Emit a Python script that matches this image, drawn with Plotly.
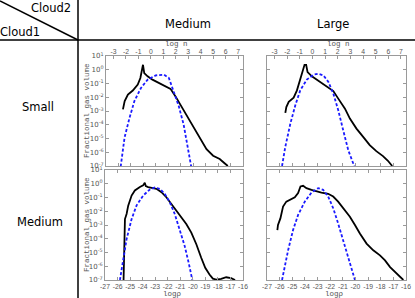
import plotly.graph_objects as go

# ---------------- data (x: log rho, y: log10 fractional gas volume) ----------------
tl_black_x = [-25.64, -25.50, -25.24, -24.85, -24.45, -24.24, -24.11, -24.03, -23.93, -23.66, -23.27, -22.74,
              -22.22, -21.82, -21.43, -21.03, -20.51, -19.98, -19.45, -18.93, -18.40, -17.87, -17.48, -17.22]
tl_black_y = [-2.88, -2.28, -1.80, -1.51, -1.08, -0.60, 0.00, 0.36, -0.24, -0.48, -0.72, -0.96,
              -1.20, -1.39, -1.92, -2.52, -3.37, -4.20, -4.93, -5.77, -6.25, -6.49, -6.80, -7.00]
tl_blue_x = [-25.82, -25.51, -25.11, -24.72, -24.19, -23.66, -23.01, -22.35, -21.95, -21.56, -21.16, -20.77, -20.37, -20.16]
tl_blue_y = [-7.04, -4.93, -3.49, -2.28, -1.32, -0.72, -0.41, -0.36, -0.60, -1.56, -2.64, -3.97, -5.89, -7.04]

tr_black_x = [-25.55, -25.47, -25.28, -24.89, -24.63, -24.37, -24.16, -24.03, -23.90, -23.79, -23.45, -23.06,
              -22.67, -22.27, -21.75, -21.36, -20.83, -20.44, -19.92, -19.39, -18.87, -18.35, -17.82, -17.43, -17.09]
tr_black_y = [-3.14, -2.71, -2.34, -2.03, -1.50, -0.77, -0.05, 0.36, 0.36, -0.17, -0.48, -0.72,
              -1.01, -1.26, -1.55, -2.10, -2.83, -3.55, -4.28, -4.88, -5.48, -5.92, -6.28, -6.62, -7.00]
tr_blue_x = [-25.81, -25.55, -25.15, -24.76, -24.37, -23.85, -23.32, -22.93, -22.54, -22.14, -21.75, -21.36, -20.97, -20.57, -20.10]
tr_blue_y = [-7.00, -5.60, -3.91, -2.58, -1.50, -0.72, -0.36, -0.29, -0.41, -0.89, -1.74, -2.95, -4.40, -5.85, -7.00]

bl_black_x = [-25.52, -25.47, -25.41, -25.28, -25.15, -24.88, -24.62, -24.22, -23.96, -23.83, -23.75, -23.56,
              -23.30, -22.90, -22.50, -22.11, -21.71, -21.31, -20.92, -20.52, -20.12, -19.72, -19.33, -19.01,
              -18.67, -18.40, -18.14, -17.74, -17.34, -16.95, -16.63]
bl_black_y = [-7.00, -4.52, -2.57, -2.20, -1.59, -0.86, -0.49, -0.24, -0.12, 0.07, -0.17, -0.24,
              -0.29, -0.37, -0.61, -0.98, -1.47, -1.96, -2.44, -2.93, -3.55, -4.40, -5.38, -6.11,
              -6.60, -6.90, -6.97, -6.92, -6.80, -6.87, -7.00]
bl_blue_x = [-25.81, -25.54, -25.28, -24.88, -24.49, -23.96, -23.43, -23.03, -22.63, -22.24, -21.84, -21.44, -21.05, -20.65, -20.33, -20.04]
bl_blue_y = [-7.00, -5.62, -4.03, -2.57, -1.59, -0.86, -0.42, -0.27, -0.37, -0.73, -1.34, -2.20, -3.30, -4.52, -5.75, -7.00]

br_black_x = [-26.18, -26.13, -25.94, -25.73, -25.47, -25.07, -24.80, -24.54, -24.35, -24.14, -23.88, -23.48,
              -23.08, -22.69, -22.16, -21.76, -21.37, -20.97, -20.44, -20.04, -19.65, -19.12, -18.59, -18.06,
              -17.66, -17.26, -16.74, -16.21]
br_black_y = [-3.37, -3.00, -2.52, -1.66, -1.30, -1.12, -0.98, -0.68, -0.20, -0.15, -0.32, -0.44,
              -0.56, -0.64, -0.73, -0.93, -1.30, -1.78, -2.40, -3.00, -3.62, -4.35, -4.84, -5.21,
              -5.57, -6.06, -6.55, -7.00]
br_blue_x = [-25.81, -25.60, -25.33, -24.94, -24.54, -24.01, -23.48, -22.95, -22.56, -22.16, -21.76, -21.37, -20.97, -20.57, -20.31, -20.04]
br_blue_y = [-7.00, -6.06, -4.84, -3.37, -2.27, -1.30, -0.64, -0.32, -0.44, -0.93, -1.78, -2.89, -4.11, -5.33, -6.19, -7.00]

col_labels = ["Medium", "Large"]
row_labels = ["Small", "Medium"]
logrho_ticks = list(range(-27, -15))
logrho_ticktext = [str(v) for v in logrho_ticks]
logn_ticks = list(range(-3, 8))
logn_ticktext = [str(v) for v in logn_ticks]
y_exps = list(range(-7, 2))
y_ticktext = ["10<sup>%d</sup>" % e for e in y_exps]

W, H = 415, 298
def px(x): return x / W
def py(y): return 1 - y / H

panels = [
    ("x", "y", 106, 243, 56, 166, True, True, (tl_black_x, tl_black_y, tl_blue_x, tl_blue_y)),
    ("x2", "y2", 267, 406, 56, 166, True, False, (tr_black_x, tr_black_y, tr_blue_x, tr_blue_y)),
    ("x3", "y3", 105, 243, 170, 280, False, True, (bl_black_x, bl_black_y, bl_blue_x, bl_blue_y)),
    ("x4", "y4", 267, 406, 170, 280, False, False, (br_black_x, br_black_y, br_blue_x, br_blue_y)),
]

fig = go.Figure()
axcol = "#9a9a9a"
tickfont = dict(family="DejaVu Sans", size=7, color="#555555")
xtickfont = dict(family="Liberation Sans", size=6.8, color="#555555")
afont = dict(family="Liberation Mono", size=7.5, color="#555555")
layout = {}
for i, (xa, ya, x0, x1, y0, y1, top, left, d) in enumerate(panels):
    bx, by, ux, uy = d
    fig.add_trace(go.Scatter(x=bx, y=[10 ** v for v in by], mode="lines", xaxis=xa, yaxis=ya,
                             line=dict(color="black", width=1.8), showlegend=False))
    fig.add_trace(go.Scatter(x=ux, y=[10 ** v for v in uy], mode="lines", xaxis=xa, yaxis=ya,
                             line=dict(color="#1a1aff", width=1.8, dash="3px,2px"), showlegend=False))
    xk = "xaxis" + ("" if xa == "x" else xa[1:])
    yk = "yaxis" + ("" if ya == "y" else ya[1:])
    layout[xk] = dict(domain=[px(x0), px(x1)], anchor=ya, range=[-27, -16],
                      tickvals=logrho_ticks, ticktext=logrho_ticktext, tickangle=0,
                      showticklabels=not top, ticks="inside", ticklen=3, tickcolor=axcol,
                      showline=True, linecolor=axcol, linewidth=1, mirror=True if top else "ticks",
                      showgrid=False, zeroline=False, tickfont=xtickfont, automargin=False)
    layout[yk] = dict(domain=[py(y1), py(y0)], anchor=xa, type="log", range=[-7, 1],
                      tickvals=[10 ** e for e in y_exps], ticktext=y_ticktext,
                      showticklabels=left, ticks="inside", ticklen=3, tickcolor=axcol,
                      showline=True, linecolor=axcol, linewidth=1, mirror="ticks",
                      showgrid=False, zeroline=False, tickfont=tickfont, automargin=False)
    if top:
        ox = "x%d" % (5 + i)
        oxk = "xaxis%d" % (5 + i)
        layout[oxk] = dict(overlaying=xa, side="top", anchor=ya, range=[-27 + 23.4, -16 + 23.4],
                           tickvals=logn_ticks, ticktext=logn_ticktext, tickangle=0,
                           ticks="inside", ticklen=3, tickcolor=axcol,
                           showline=False, showgrid=False, zeroline=False, tickfont=xtickfont,
                           automargin=False)
        fig.add_trace(go.Scatter(x=[-3], y=[1e-7], xaxis=ox, yaxis=ya, mode="markers",
                                 marker=dict(opacity=0), showlegend=False, hoverinfo="skip"))
        fig.add_annotation(x=px((x0 + x1) / 2 + 2), y=py(44), xref="paper", yref="paper", text="log n",
                           showarrow=False, xanchor="center", yanchor="middle", font=afont)
    else:
        fig.add_annotation(x=px((x0 + x1) / 2 - 2), y=py(293.5), xref="paper", yref="paper", text="logρ",
                           showarrow=False, xanchor="center", yanchor="middle", font=afont)
    if left:
        fig.add_annotation(x=px(87), y=py((y0 + y1) / 2), xref="paper", yref="paper",
                           text="Fractional gas volume", textangle=-90, showarrow=False,
                           xanchor="center", yanchor="middle", font=afont)

fig.update_layout(**layout)

shapes = [
    dict(type="line", xref="paper", yref="paper", x0=px(78), x1=px(78), y0=0, y1=1, line=dict(color="black", width=1.5)),
    dict(type="line", xref="paper", yref="paper", x0=0, x1=1, y0=py(40), y1=py(40), line=dict(color="black", width=1.5)),
    dict(type="line", xref="paper", yref="paper", x0=0, x1=px(78), y0=py(1), y1=py(40), line=dict(color="black", width=1.5)),
]
fig.update_layout(shapes=shapes)
hfont = dict(family="DejaVu Sans", size=11.5, color="black")
fig.add_annotation(x=px(73), y=py(8), xref="paper", yref="paper", text="Cloud2", showarrow=False,
                   xanchor="right", yanchor="middle", font=hfont)
fig.add_annotation(x=px(-2), y=py(32), xref="paper", yref="paper", text="Cloud1", showarrow=False,
                   xanchor="left", yanchor="middle", font=hfont)
for cx, t in zip([188, 333], col_labels):
    fig.add_annotation(x=px(cx), y=py(24), xref="paper", yref="paper", text=t, showarrow=False,
                       xanchor="center", yanchor="middle", font=hfont)
for cy, cx, t in zip([107, 222], [38, 40], row_labels):
    fig.add_annotation(x=px(cx), y=py(cy), xref="paper", yref="paper", text=t, showarrow=False,
                       xanchor="center", yanchor="middle", font=hfont)

fig.update_layout(width=W, height=H, margin=dict(l=0, r=0, t=0, b=0, autoexpand=False),
                  paper_bgcolor="white", plot_bgcolor="white")
fig.write_html("out.html", config={"displayModeBar": False},
               post_script="document.body.style.margin='0';document.body.style.overflow='hidden';")
